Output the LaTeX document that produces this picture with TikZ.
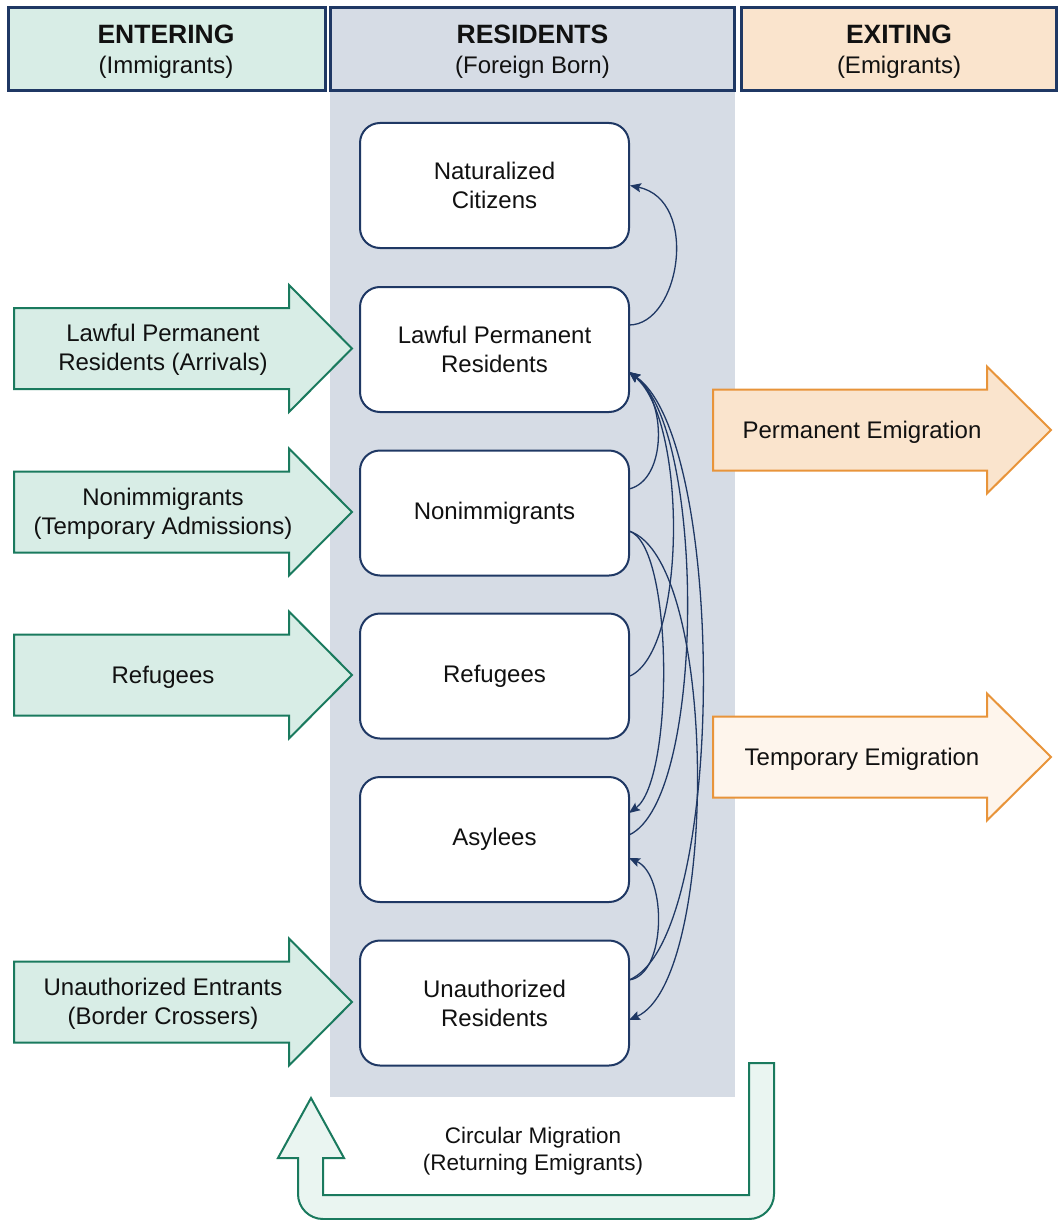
\documentclass[tikz,border=0pt]{standalone}
\usepackage{fontspec}
\setmainfont{Liberation Sans}
\usetikzlibrary{arrows.meta}
\definecolor{navy}{HTML}{1F3864}
\definecolor{resbg}{HTML}{D6DCE5}
\definecolor{entfill}{HTML}{D8EDE6}
\definecolor{teal}{HTML}{1A7A5E}
\definecolor{exfill}{HTML}{FAE4CD}
\definecolor{extmp}{HTML}{FEF5EC}
\definecolor{orng}{HTML}{E8943A}
\definecolor{circfill}{HTML}{EAF5F1}
\definecolor{txt}{HTML}{111111}
\begin{document}
\begin{tikzpicture}[x=1pt,y=-1pt,
  body/.style={font=\fontsize{24}{29}\selectfont, text=txt, align=center},
  hdrbox/.style={draw=navy, line width=3pt, minimum height=83pt, inner sep=0pt},
  hdrtxt/.style={align=center, text=txt, inner sep=0pt, font=\fontsize{24}{30}\selectfont},
  resbox/.style={body, draw=navy, line width=2pt, fill=white, rounded corners=20pt, minimum width=269pt, minimum height=125pt, inner sep=0pt},
  inarrow/.style={draw=teal, fill=entfill, line width=2pt, line join=miter},
  outarrow/.style={draw=orng, line width=2pt, line join=miter},
  conn/.style={draw=navy, line width=1.3pt, -{Stealth[length=11pt,width=9pt,inset=2pt]}}
]
\useasboundingbox (0,0) rectangle (1058,1220);
\fill[white] (0,0) rectangle (1058,1220);
% residents column
\fill[resbg] (330,91) rectangle (735,1097);

% headers
\node[hdrbox, fill=entfill, minimum width=317pt] (hent) at (167,49) {};
\node[hdrbox, fill=resbg, minimum width=404pt] (hres) at (532.5,49) {};
\node[hdrbox, fill=exfill, minimum width=315pt] (hexit) at (899,49) {};
\node[hdrtxt] (hentT) at (166,51.5) {{\bfseries\fontsize{26.5}{30}\selectfont ENTERING}\\(Immigrants)};
\node[hdrtxt] (hresT) at (532.5,51.5) {{\bfseries\fontsize{26.5}{30}\selectfont RESIDENTS}\\(Foreign Born)};
\node[hdrtxt] (hexitT) at (899,51.5) {{\bfseries\fontsize{26.5}{30}\selectfont EXITING}\\(Emigrants)};

% resident boxes
\node[resbox] (nat) at (494.5,185.5) {Naturalized\\Citizens};
\node[resbox] (lpr) at (494.5,349.5) {Lawful Permanent\\Residents};
\node[resbox] (ni)  at (494.5,513)   {Nonimmigrants};
\node[resbox] (ref) at (494.5,676)   {Refugees};
\node[resbox] (asy) at (494.5,839.5) {Asylees};
\node[resbox] (un)  at (494.5,1003)  {Unauthorized\\Residents};

% entering arrows
\foreach \c in {348.5,512,675,1002}{
  \draw[inarrow] (14,\c-40.5) -- (289,\c-40.5) -- (289,\c-63.5) -- (352,\c) -- (289,\c+63.5) -- (289,\c+40.5) -- (14,\c+40.5) -- cycle;
}
\node[body] (tlpr) at (163,350) {Lawful Permanent\\Residents (Arrivals)};
\node[body] (tni)  at (163,514)   {Nonimmigrants\\(Temporary Admissions)};
\node[body] (tref) at (163,677)   {Refugees};
\node[body] (tun)  at (163,1004)  {Unauthorized Entrants\\(Border Crossers)};

% exiting arrows
\draw[outarrow, fill=exfill] (713,389.5) -- (987,389.5) -- (987,366.5) -- (1051,430) -- (987,493.5) -- (987,470.5) -- (713,470.5) -- cycle;
\draw[outarrow, fill=extmp] (713,716.5) -- (987,716.5) -- (987,693.5) -- (1051,757) -- (987,820.5) -- (987,797.5) -- (713,797.5) -- cycle;
\node[body] (tperm) at (862,432) {Permanent Emigration};
\node[body] (ttemp) at (862,759) {Temporary Emigration};

% circular migration
\draw[draw=teal, fill=circfill, line width=2pt, line join=miter]
  (749,1063) -- (774,1063) -- (774,1194) arc[start angle=0, end angle=90, radius=25]
  -- (323,1219) arc[start angle=90, end angle=180, radius=25]
  -- (298,1158) -- (278,1158) -- (311,1098) -- (344,1158) -- (323,1158)
  -- (323,1195) -- (749,1195) -- cycle;
\node[body, font=\fontsize{22.5}{27}\selectfont] (tcirc) at (533,1151) {Circular Migration\\(Returning Emigrants)};

% connectors
\coordinate (lprIn) at (629,372);
\coordinate (lprOut) at (629,325);
\coordinate (niOutA) at (629,489);
\coordinate (niOutB) at (629,531);
\coordinate (asyOut) at (629,835);
\coordinate (asyInA) at (629,813);
\coordinate (asyInB) at (629,858);
\coordinate (unOut) at (629,980);
\coordinate (unIn) at (629,1020);

\draw[conn] (lprOut) .. controls (680,325) and (700,200) .. (nat.east);
\draw[conn] (niOutA) .. controls (667,480) and (667,400) .. (lprIn);
\draw[conn] (ref.east) .. controls (687,650) and (687,420) .. (lprIn);
\draw[conn] (asyOut) .. controls (706,800) and (706,430) .. (lprIn);
\draw[conn] (unOut) .. controls (727,940) and (727,440) .. (lprIn);
\draw[conn] (niOutB) .. controls (674,545) and (674,780) .. (asyInA);
\draw[conn] (niOutB) .. controls (719,560) and (719,980) .. (unIn);
\draw[conn] (unOut) .. controls (667,975) and (667,875) .. (asyInB);
\end{tikzpicture}
\end{document}
